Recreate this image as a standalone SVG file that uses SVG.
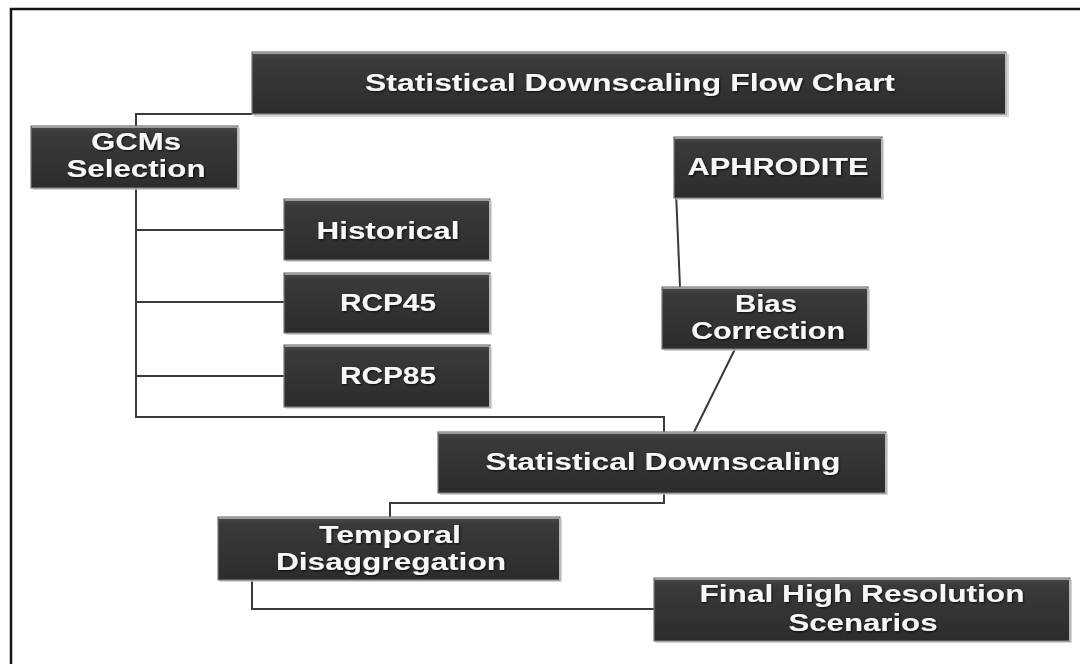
<svg xmlns="http://www.w3.org/2000/svg" width="1080" height="664" viewBox="0 0 1080 664">
  <style>
    .box { fill: url(#boxGrad); stroke: #7a7a7a; stroke-width: 1.2; }
    .shadow { fill: #c4c4c4; opacity: 0.7; }
    .hl { stroke: #9c9c9c; stroke-width: 2; fill: none; }
    .rt { stroke: #b8b8b8; stroke-width: 2; fill: none; }
    .lbl { font-family: "Liberation Sans", Arial, sans-serif; font-weight: 700; font-size: 23px; fill: #f7f7f7; text-anchor: middle; filter: url(#txtShadow); }
    .conn { stroke: #3a3a3a; stroke-width: 2; fill: none; }
    .frame { stroke: #141414; stroke-width: 2.5; fill: none; }
  </style>
  <defs>
    <linearGradient id="boxGrad" x1="0" y1="0" x2="0" y2="1">
      <stop offset="0" stop-color="#4a4a4a"/>
      <stop offset="0.12" stop-color="#3a3a3a"/>
      <stop offset="1" stop-color="#2c2c2c"/>
    </linearGradient>
    <filter id="txtShadow" x="-10%" y="-30%" width="120%" height="160%">
      <feDropShadow dx="1" dy="1" stdDeviation="0.8" flood-color="#000" flood-opacity="0.8"/>
    </filter>
  </defs>

  <rect x="0" y="0" width="1080" height="664" fill="#ffffff"/>
  <path class="frame" d="M 11 664 V 9 H 1080"/>

  <g id="connectors">
    <path class="conn" d="M 252 114 H 136 V 126"/>
    <path class="conn" d="M 136 188 V 417 H 664 V 432"/>
    <path class="conn" d="M 136 230 H 284"/>
    <path class="conn" d="M 136 302 H 284"/>
    <path class="conn" d="M 136 376 H 284"/>
    <path class="conn" d="M 675 168 L 680 287"/>
    <path class="conn" d="M 735 349 L 694 432"/>
    <path class="conn" d="M 664 493 V 503 H 390 V 517"/>
    <path class="conn" d="M 252 580 V 609 H 654"/>
  </g>

  <g id="title">
    <rect class="shadow" x="254" y="54" width="755" height="63"/>
    <rect class="box" x="252" y="52" width="754" height="62"/>
    <path class="hl" d="M 253 53 H 1005"/>
    <path class="rt" d="M 1006 53 V 114"/>
    <text class="lbl" x="630" y="91" font-size="24" textLength="530" lengthAdjust="spacingAndGlyphs">Statistical Downscaling Flow Chart</text>
  </g>

  <g id="gcms">
    <rect class="shadow" x="33" y="128" width="207" height="62"/>
    <rect class="box" x="31" y="126" width="207" height="62"/>
    <path class="hl" d="M 32 127 H 237"/>
    <path class="rt" d="M 238 127 V 188"/>
    <text class="lbl" x="136" y="150" textLength="90" lengthAdjust="spacingAndGlyphs">GCMs</text>
    <text class="lbl" x="136" y="177" textLength="139" lengthAdjust="spacingAndGlyphs">Selection</text>
  </g>

  <g id="aphrodite">
    <rect class="shadow" x="676" y="139" width="208" height="61"/>
    <rect class="box" x="674" y="137" width="208" height="61"/>
    <path class="hl" d="M 675 138 H 881"/>
    <path class="rt" d="M 882 138 V 198"/>
    <text class="lbl" x="778" y="175" textLength="181" lengthAdjust="spacingAndGlyphs">APHRODITE</text>
  </g>

  <g id="historical">
    <rect class="shadow" x="286" y="201" width="206" height="61"/>
    <rect class="box" x="284" y="199" width="206" height="61"/>
    <path class="hl" d="M 285 200 H 489"/>
    <path class="rt" d="M 490 200 V 260"/>
    <text class="lbl" x="388" y="239" textLength="143" lengthAdjust="spacingAndGlyphs">Historical</text>
  </g>

  <g id="rcp45">
    <rect class="shadow" x="286" y="275" width="206" height="60"/>
    <rect class="box" x="284" y="273" width="206" height="60"/>
    <path class="hl" d="M 285 274 H 489"/>
    <path class="rt" d="M 490 274 V 333"/>
    <text class="lbl" x="388" y="311" textLength="96" lengthAdjust="spacingAndGlyphs">RCP45</text>
  </g>

  <g id="rcp85">
    <rect class="shadow" x="286" y="347" width="206" height="62"/>
    <rect class="box" x="284" y="345" width="206" height="62"/>
    <path class="hl" d="M 285 346 H 489"/>
    <path class="rt" d="M 490 346 V 407"/>
    <text class="lbl" x="388" y="384" textLength="96" lengthAdjust="spacingAndGlyphs">RCP85</text>
  </g>

  <g id="bias">
    <rect class="shadow" x="664" y="289" width="206" height="62"/>
    <rect class="box" x="662" y="287" width="206" height="62"/>
    <path class="hl" d="M 663 288 H 867"/>
    <path class="rt" d="M 868 288 V 349"/>
    <text class="lbl" x="766" y="312" textLength="62" lengthAdjust="spacingAndGlyphs">Bias</text>
    <text class="lbl" x="768" y="339" textLength="154" lengthAdjust="spacingAndGlyphs">Correction</text>
  </g>

  <g id="downscaling">
    <rect class="shadow" x="440" y="434" width="448" height="61"/>
    <rect class="box" x="438" y="432" width="448" height="61"/>
    <path class="hl" d="M 439 433 H 885"/>
    <path class="rt" d="M 886 433 V 493"/>
    <text class="lbl" x="663" y="470" textLength="355" lengthAdjust="spacingAndGlyphs">Statistical Downscaling</text>
  </g>

  <g id="temporal">
    <rect class="shadow" x="220" y="519" width="342" height="63"/>
    <rect class="box" x="218" y="517" width="342" height="63"/>
    <path class="hl" d="M 219 518 H 559"/>
    <path class="rt" d="M 560 518 V 580"/>
    <text class="lbl" x="390" y="543" textLength="142" lengthAdjust="spacingAndGlyphs">Temporal</text>
    <text class="lbl" x="391" y="570" textLength="230" lengthAdjust="spacingAndGlyphs">Disaggregation</text>
  </g>

  <g id="final">
    <rect class="shadow" x="656" y="580" width="416" height="63"/>
    <rect class="box" x="654" y="578" width="416" height="63"/>
    <path class="hl" d="M 655 579 H 1069"/>
    <path class="rt" d="M 1070 579 V 641"/>
    <text class="lbl" x="862" y="602" textLength="325" lengthAdjust="spacingAndGlyphs">Final High Resolution</text>
    <text class="lbl" x="863" y="631" textLength="149" lengthAdjust="spacingAndGlyphs">Scenarios</text>
  </g>
</svg>
